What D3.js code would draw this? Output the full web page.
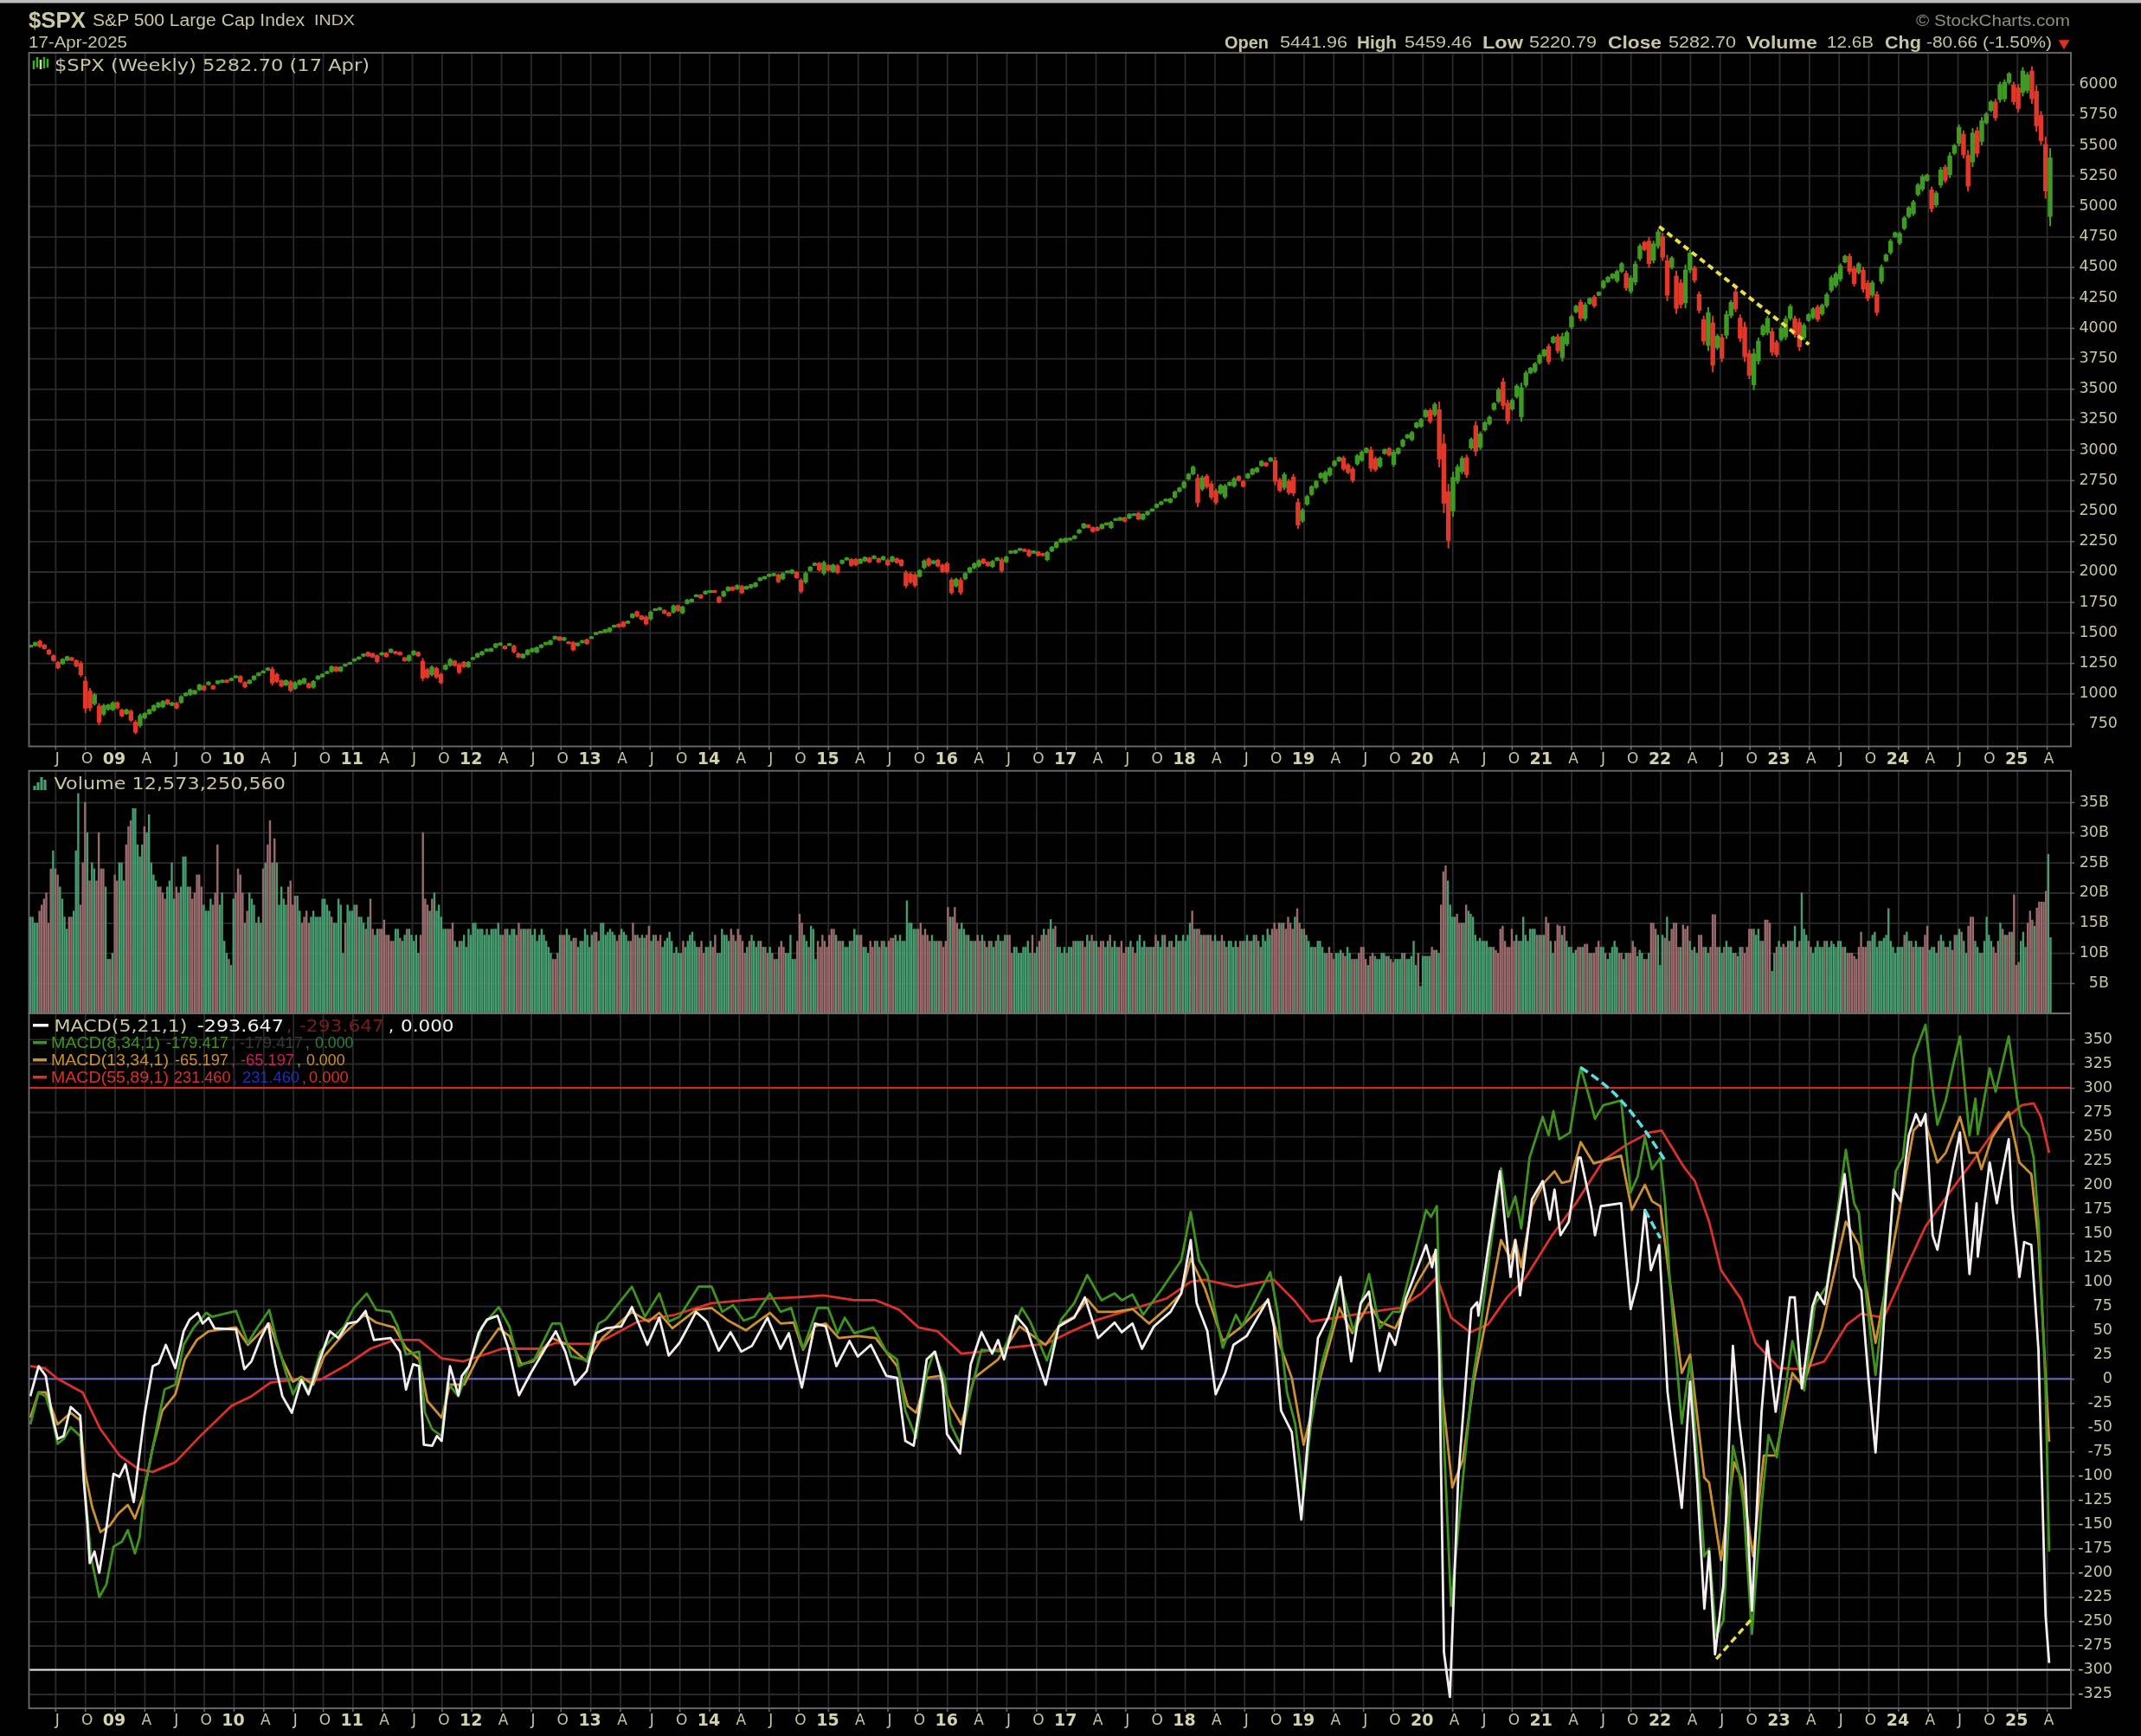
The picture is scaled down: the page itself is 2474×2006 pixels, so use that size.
<!DOCTYPE html>
<html><head><meta charset="utf-8"><title>$SPX</title>
<style>html,body{margin:0;padding:0;background:#000}svg{display:block;filter:blur(0.55px)}</style>
<script src="https://cdnjs.cloudflare.com/ajax/libs/d3/7.8.5/d3.min.js"></script></head><body>
<svg id="c" width="2474" height="2006"></svg>
<script>
// ---------- tick values ----------
const priceTicks=[750,1000,1250,1500,1750,2000,2250,2500,2750,3000,3250,3500,3750,4000,4250,4500,4750,5000,5250,5500,5750,6000];
const volumeTicks=[5,10,15,20,25,30,35];
const macdTicks=[-325,-300,-275,-250,-225,-200,-175,-150,-125,-100,-75,-50,-25,0,25,50,75,100,125,150,175,200,225,250,275,300,325,350];
const firstYear=2008,lastYear=2025;
const quarterLetters=["","A","J","O"];
// ---------- price bars, one per two weeks: low, high, direction ----------
const priceLow=[1385,1385,1375,1360,1315,1260,1200,1235,1265,1265,1215,1135,840,855,900,740,815,860,855,
870,805,825,765,665,720,790,825,850,880,880,905,895,870,915,975,980,990,1020,1020,1065,1030,1075,1085,1085,1100,
1125,1085,1045,1075,1105,1140,1165,1185,1065,1085,1050,1060,1010,1030,1065,1075,1040,1040,1110,1130,1160,1170,1175,1175,1220,1240,
1260,1275,1300,1300,1290,1250,1310,1295,1330,1320,1310,1260,1260,1310,1300,1100,1120,1140,1120,1075,1190,1220,1220,1160,1210,1210,
1275,1290,1310,1340,1340,1370,1390,1360,1390,1330,1290,1285,1310,1335,1330,1370,1395,1395,1440,1430,1430,1405,1345,1385,1410,1400,
1455,1480,1495,1495,1500,1540,1540,1540,1570,1615,1625,1600,1560,1600,1680,1680,1650,1630,1655,1670,1650,1730,1745,1790,1775,1810,
1825,1825,1740,1790,1835,1840,1850,1815,1850,1860,1870,1920,1935,1955,1960,1905,1930,1990,1980,1940,1820,1900,2000,2045,2000,1970,
2000,1990,1980,2060,2090,2040,2045,2060,2080,2070,2100,2070,2090,2045,2075,2065,2040,1865,1900,1870,1950,2020,2040,2060,2035,1990,
1985,1810,1870,1810,1930,1985,2020,2035,2060,2040,2030,2085,1990,2070,2145,2145,2170,2160,2120,2145,2125,2125,2085,2160,2190,2235,
2235,2255,2265,2310,2350,2355,2320,2330,2345,2380,2350,2420,2415,2405,2430,2460,2420,2420,2460,2490,2520,2545,2575,2560,2600,2650,
2680,2750,2790,2530,2660,2680,2590,2550,2630,2595,2700,2690,2740,2690,2760,2790,2810,2860,2860,2900,2710,2650,2670,2630,2620,2350,
2400,2540,2620,2680,2760,2720,2780,2860,2900,2825,2800,2730,2870,2900,2970,2820,2820,2850,2960,2945,2860,2960,3020,3090,3070,3175,
3180,3260,3215,3270,2855,2480,2190,2450,2720,2800,2770,3000,2950,3000,3150,3200,3320,3380,3330,3210,3320,3420,3230,3510,3620,3630,
3700,3760,3700,3870,3790,3725,3850,3990,4120,4055,4055,4190,4165,4260,4320,4370,4400,4370,4450,4305,4280,4350,4550,4630,4495,4530,
4650,4550,4220,4480,4115,4160,4160,4450,4370,4120,3860,3810,3635,3820,3720,3910,4080,4130,3885,3720,3580,3490,3700,3930,3940,3770,
3760,3890,3900,4060,3920,3810,3900,4050,4070,4050,4100,4165,4290,4330,4380,4530,4440,4340,4440,4290,4220,4250,4100,4360,4540,4600,
4740,4680,4800,4900,4920,5080,5120,5200,4950,4990,5150,5190,5230,5420,5490,5390,5120,5320,5400,5500,5670,5770,5700,5850,5855,6000,
5830,5770,5900,5925,5840,5610,5500,5060,4835];
const priceHigh=[1400,1425,1440,1405,1365,1320,1265,1290,1310,1300,1280,1265,1140,1045,1005,920,915,915,935,
935,875,875,870,780,835,845,875,910,930,945,955,930,930,985,1010,1040,1030,1080,1070,1100,1070,1110,1115,1115,1130,
1150,1150,1100,1115,1150,1175,1190,1215,1220,1170,1115,1115,1110,1100,1115,1130,1090,1110,1150,1165,1185,1230,1225,1225,1245,1260,
1290,1305,1330,1345,1335,1320,1340,1340,1370,1350,1345,1300,1320,1355,1345,1290,1210,1230,1220,1170,1240,1290,1275,1250,1265,1265,
1300,1335,1350,1370,1375,1415,1420,1395,1415,1400,1335,1330,1365,1375,1385,1405,1425,1440,1475,1470,1465,1430,1430,1420,1440,1450,
1470,1505,1515,1530,1545,1565,1575,1595,1600,1660,1680,1645,1640,1680,1700,1710,1690,1670,1730,1730,1720,1775,1780,1815,1815,1845,
1850,1850,1800,1845,1880,1880,1895,1890,1885,1900,1915,1955,1965,1985,1990,1985,1995,2010,2020,2005,1945,2000,2045,2075,2080,2090,
2060,2065,2060,2100,2120,2110,2110,2110,2125,2120,2135,2115,2130,2105,2130,2115,2105,2010,1995,1990,2020,2100,2115,2095,2105,2065,
2080,1950,1950,1950,1995,2040,2075,2100,2110,2085,2095,2120,2115,2130,2175,2180,2195,2190,2185,2175,2170,2155,2170,2210,2250,2275,
2280,2280,2300,2350,2400,2390,2370,2370,2395,2405,2415,2440,2450,2450,2480,2480,2490,2480,2500,2520,2560,2580,2600,2605,2665,2695,
2745,2810,2870,2800,2790,2800,2740,2680,2720,2720,2740,2775,2790,2750,2810,2850,2860,2915,2900,2940,2940,2770,2815,2760,2800,2600,
2520,2630,2710,2750,2815,2830,2860,2915,2945,2950,2890,2860,2965,2995,3020,3025,2945,2945,3010,3020,3000,3020,3090,3130,3155,3230,
3260,3335,3340,3390,3395,3130,2720,2820,2880,2950,2960,3100,3235,3150,3235,3280,3390,3510,3590,3410,3420,3540,3550,3650,3680,3720,
3790,3830,3870,3935,3950,3960,3980,4110,4190,4235,4210,4250,4270,4300,4395,4425,4450,4480,4540,4470,4430,4550,4690,4715,4745,4715,
4810,4780,4600,4590,4470,4400,4520,4640,4510,4300,4100,4170,4100,3950,3950,4140,4230,4320,4110,4050,3820,3830,3920,4030,4100,4000,
3900,4015,4100,4195,4100,4080,4040,4120,4170,4190,4200,4290,4430,4460,4530,4600,4610,4510,4540,4500,4390,4390,4300,4520,4610,4730,
4790,4790,4920,5000,5050,5190,5260,5265,5160,5125,5320,5340,5440,5510,5670,5620,5460,5640,5650,5730,5770,5870,5880,6020,6040,6100,
6020,6000,6140,6100,6147,5990,5780,5570,5475];
const priceDir="ggrrrrrggrrrrrgrggg"+"rrgrrggggggrgrgggggrgrggrg"+"grrgggggrrrgrgggrgggggrggg"+"gggrrrgrgrrrggrrrgrrggrrrg"+"gggggggrgrrggggggggrgrrggr"+"ggggggrrggrrrgggrrgrggggrg"+"grrggrgrgggggggrgggrrgggrg"+"rgrggrrggrgrgrgrrrrrggrgrr"+"rrgrggggrrggrggggrrgrrgggg"+"gggggrrrgggggrggrggggggggg"+"gggrgrrrggggrrggggrgrrgrrr"+"gggggggggrrrgggrrggrgggggg"+"ggrgrrrgggrgrgggggrrgggggg"+"ggrgrggggrggrggggggrgggrrg"+"grrgrrggrrrgrgrggrrrrggggr"+"rgggrrgggrggggggrrgrrgrggg"+"ggggggggrggrgggrrgrgggrggg"+"rrggrrrrg";
// ---------- weekly volume in billions; negative = down week ----------
const volume=[16,16,15,15,-17,-18,-19,-20,-15,-24,27,-24,-23,21,19,16,14,-16,-16,17,27,36.5,-18,-25,-35,30,-22,25,24,-22,-30,-24,-24,21,9,-9,10,
-23,-22,25,25,22,-28,-31,-32,34,34,28,26,28,-31,30,33,25,23,22,-21,-21,-20,-19,21,22,25,19,-21,-20,21,26,26,21,-21,-19,-20,-23,-23,-21,18,17,17,19,-18,-20,-28,18,20,12,10,-9,8,
19,-20,-24,-23,-20,15,-17,20,19,18,-15,16,15,-24,25,-28,-32,25,-29,25,18,21,19,18,-21,-22,-18,-19.5,19.5,17,-15,-16,-17,-15,16,17,16,16,16,19,19,18,17,-16,15,15,19,18,10,-15,18,17,
17,18,-18,16,16,15,-14,16,-19,-14,13,14,-14,-14,-15.5,-13,-13,-12,-12,14,14,-12.5,12,13,-14,14,13,12,13,10,-13,-30,-19,-18,17,-19,20,17,18,16,14,14,-14,-14,-15,12,11,-12,12,13,11,14,
13,15,15,14,14,14,13,14,13,14,14,14,15,13,-13,-14,14,13,14,14,-13,-15,-14,14,14,-14,14,13,14,12,13,14,13,12,11,10,-9,-9,-10,13,-13,-13,14,13,12,-12.5,-12.5,11,12,12,14,13,
11,13,-13.5,-13.5,12,15,15,13,13.5,14,13.5,13,-12,-13,14,13.5,13,12,-12,-15,-13,13,-12.5,13,12.5,-13,-14.5,12,13,-13,-12,-13,11,12,12.5,13.5,12,-10,11,10,10,-12,11,12,13,13.5,12,11,-11,-12,-10,11,
-11,12,-11,-13,10,10,14,13,13,12,-14,-13,12,-14,-13,-12,-10,11,-12,13,12,11,12,-12,11,-11,-10,11,-10,-9,9,-11,-12,-11,10,10,13,9,9,-12,-16.5,-15,13,12,-11,14.5,14,9,-12,-11,-13,-12,-11,
-13,-14,-14,13,-12,-12,12,11,11,12,-12,14,13,-13,-13,11,11,10,-12,-11,-12,12,-11,-12,12,11,-12,-12.5,-12.5,13,12,13,12,12,18.7,15,15,14,14,-14,-15,-13,-14,-13,-12,13,12,-12,12,-12,-11,-12,
-17.6,16,-16,-17.6,-15,14,15,14,-13,13,12,-12,12,-13,-12,13,-12,11,-12,12,11,-12,13,12,-12,13,-13,-13,-10,11,11,10,10,11,11,12,10,-13,10,11,-12,-13,14,-13,-14,15.6,14,-14.5,11,11,10,11,
-10,11,11,-12,12,12,12,-12,-11,13,12,-13,12,12,-11,-12,-12,11,12,-13,11,12,11,-11,-12,-10,-11,11,12,-11,-10,12,13,11,12,-11,11,-11,11,-13,12,11,13,-13,-11,12,-12,-11,13,12,-12,13,
12,13,15,-17,14,-14,-14,13,-13,-13,13,-13,-12,13,12,-12,-13,12,-11,12,12,11,12,-11,-12,12,-12,13,-12,12,13,-13,12,-11,13,12,14,13,-14,-15,-14,-15,15,-15,-14,-16,-15,-14,16,-17.4,-15,14,
-14,13,12,11,11,-11,12,12,11,10,-10,-11,-10,-9,10,10,10.5,-10,-9.5,11,10,-9,-9,9,-10,-11,-11,-9,8,-9.5,-10,9.5,9,9,10,10,-9.5,9.5,-9,-8.5,9,9,9,10,-10,9,9,9.5,12,8,-10,4.5,
9.5,9.5,9.5,9.5,-11,-10.5,10.5,10,-18,-23.5,-24.5,22,18,16,16,-16.5,-15,-15,15,-18,17,16.5,16,13,12,12.5,12,12,12,11,11,-11,-10.5,-10,-14,-14.5,-12,-11,-11,-14,-12,13,-12,12,16,13,12,14,14,14,-13,13,
-13,13,-16,-15,12,10,-12,-14.7,-14.5,13,-14.5,12,11,11,10,10.5,-11,-11,11,-11.5,-11.5,10,-10,-10,-11,-12,11,11,-10,9,10,11,12,11,-10,-10,9,10,-10,-10,-12,-11,9.5,10.5,10,-9,-9,10,-15,-15,-14,13,
8,13,-12.5,16,-12,-14,-15,-15,-11,11,-14.7,-14,-14.5,12,-10.5,11,10,-13,-13,-11,11,10,-11,-16.4,-16.4,-11,11,10,-11,12,11,11,10,-10,9.5,11,-11,-10,-11,-14,-14,14,13,14,-12,12,-15.5,-15.5,-15,7,10,-11,
12,11,-11.5,-11,12,-12,12,14.5,-11,-12,20,14,13,-12,11,10,11,12,11,11,-12,12,11,12,11.5,11,12,12,-11,11,-10,-10,-10,-9.5,-9,-11,-13.5,-11,-11,12,-12,13,13.5,11,12,12,12.5,13,17.4,12,11,10,
11,11,11,-13,13.5,12,-12,-11,12,11,11,-11,-13,-14.5,10.5,11,11,10,-12,13,12,-11,-11,12,-10.5,-13,13,14,-13.5,12,10,-14.5,-16,-16,12,11,10,-10,12,16,13,12,-11,-10,-12,15,-14,13,-13,-13.5,13.5,-19.7,
-8,-8.5,12,13.5,11,-15,-17,-15.5,14.5,-17.5,-18.5,-18.5,-18.5,-20.3,26.4,12.6];
// ---------- MACD lines: [decimal year, value] ----------
const macdWhite=[[2008.29,-18],[2008.36,13],[2008.42,3],[2008.47,-35],[2008.52,-62],[2008.57,-59],[2008.63,-29],[2008.71,-38],[2008.74,-105],[2008.77,-149],[2008.79,-190],[2008.83,-178],[2008.87,-200],[2008.93,-154],[2008.99,-98],[2009.04,-101],[2009.09,-88],[2009.16,-127],[2009.20,-86],[2009.25,-38],[2009.32,13],[2009.37,16],[2009.43,35],[2009.51,11],[2009.58,49],[2009.63,61],[2009.70,68],[2009.74,57],[2009.79,63],[2009.84,52],[2010.02,51],[2010.09,10],[2010.15,18],[2010.22,40],[2010.29,57],[2010.35,15],[2010.41,-18],[2010.49,-35],[2010.57,-1],[2010.63,-16],[2010.72,18],[2010.81,49],[2010.88,42],[2010.96,57],[2011.04,59],[2011.11,70],[2011.18,40],[2011.32,42],[2011.40,28],[2011.45,-11],[2011.51,15],[2011.56,13],[2011.60,-68],[2011.67,-69],[2011.71,-59],[2011.75,-64],[2011.82,13],[2011.89,-17],[2011.92,3],[2011.98,13],[2012.06,47],[2012.13,61],[2012.22,65],[2012.31,32],[2012.40,-17],[2012.50,6],[2012.62,31],[2012.71,49],[2012.79,28],[2012.87,-6],[2012.97,8],[2013.05,47],[2013.13,52],[2013.26,54],[2013.35,74],[2013.48,35],[2013.58,63],[2013.66,24],[2013.75,37],[2013.89,69],[2013.98,59],[2014.08,29],[2014.18,48],[2014.27,28],[2014.36,34],[2014.49,63],[2014.60,31],[2014.67,47],[2014.78,-9],[2014.89,57],[2014.98,54],[2015.07,13],[2015.18,39],[2015.25,23],[2015.36,35],[2015.49,3],[2015.58,1],[2015.65,-64],[2015.72,-69],[2015.83,20],[2015.90,28],[2015.96,-1],[2016.00,-57],[2016.11,-77],[2016.20,15],[2016.29,48],[2016.38,26],[2016.43,40],[2016.48,20],[2016.58,65],[2016.67,52],[2016.83,-6],[2016.94,54],[2017.07,63],[2017.16,84],[2017.27,42],[2017.41,58],[2017.47,48],[2017.56,57],[2017.64,31],[2017.74,54],[2017.88,69],[2017.97,88],[2018.05,143],[2018.10,78],[2018.19,49],[2018.26,-16],[2018.34,6],[2018.41,35],[2018.52,44],[2018.70,82],[2018.75,54],[2018.81,-33],[2018.90,-55],[2018.98,-145],[2019.03,-71],[2019.12,42],[2019.21,64],[2019.31,105],[2019.40,18],[2019.48,78],[2019.55,90],[2019.64,8],[2019.72,47],[2019.77,35],[2019.86,83],[2020.03,138],[2020.08,115],[2020.11,133],[2020.14,25],[2020.18,-282],[2020.23,-328],[2020.30,-102],[2020.41,72],[2020.46,79],[2020.47,65],[2020.55,133],[2020.65,214],[2020.74,105],[2020.78,143],[2020.82,86],[2020.92,185],[2021.01,204],[2021.07,164],[2021.11,195],[2021.16,148],[2021.23,162],[2021.31,228],[2021.33,228],[2021.42,176],[2021.45,148],[2021.50,178],[2021.67,181],[2021.75,72],[2021.81,100],[2021.87,174],[2021.92,112],[2021.99,138],[2022.06,-13],[2022.12,-74],[2022.18,-133],[2022.25,-3],[2022.31,-107],[2022.37,-237],[2022.41,-178],[2022.46,-284],[2022.53,-213],[2022.61,34],[2022.66,-41],[2022.71,-93],[2022.77,-239],[2022.85,-36],[2022.90,39],[2022.97,-34],[2023.03,20],[2023.09,84],[2023.13,84],[2023.19,-10],[2023.28,75],[2023.32,89],[2023.38,77],[2023.55,211],[2023.63,105],[2023.69,91],[2023.75,1],[2023.81,-76],[2023.88,58],[2023.96,195],[2024.02,183],[2024.09,251],[2024.15,273],[2024.19,261],[2024.23,273],[2024.29,148],[2024.33,133],[2024.40,181],[2024.46,218],[2024.52,254],[2024.60,108],[2024.66,181],[2024.67,126],[2024.77,223],[2024.83,181],[2024.87,209],[2024.93,247],[2024.96,178],[2025.02,105],[2025.06,141],[2025.12,138],[2025.18,30],[2025.24,-244],[2025.27,-293]];
const macdGreen=[[2008.29,-47],[2008.36,-14],[2008.42,-18],[2008.47,-38],[2008.52,-67],[2008.57,-62],[2008.63,-50],[2008.71,-59],[2008.75,-115],[2008.80,-183],[2008.87,-225],[2008.93,-212],[2008.99,-173],[2009.06,-168],[2009.11,-156],[2009.17,-180],[2009.21,-163],[2009.25,-115],[2009.32,-71],[2009.42,-11],[2009.51,-6],[2009.58,35],[2009.66,52],[2009.77,68],[2009.82,64],[2010.02,70],[2010.12,37],[2010.18,49],[2010.30,71],[2010.36,40],[2010.44,6],[2010.50,-16],[2010.57,1],[2010.63,-14],[2010.73,28],[2010.83,42],[2010.93,54],[2011.01,73],[2011.12,88],[2011.20,71],[2011.32,69],[2011.38,54],[2011.45,25],[2011.56,28],[2011.61,-35],[2011.67,-52],[2011.75,-59],[2011.80,-4],[2011.89,-18],[2011.98,13],[2012.09,54],[2012.23,74],[2012.32,54],[2012.40,13],[2012.53,20],[2012.68,57],[2012.75,57],[2012.84,23],[2012.97,19],[2013.07,57],[2013.13,61],[2013.35,95],[2013.46,64],[2013.58,88],[2013.66,59],[2013.75,64],[2013.91,95],[2014.02,95],[2014.11,69],[2014.20,76],[2014.29,60],[2014.38,64],[2014.51,88],[2014.60,69],[2014.69,73],[2014.79,31],[2014.91,73],[2015.00,73],[2015.08,47],[2015.14,63],[2015.22,47],[2015.38,53],[2015.49,28],[2015.58,20],[2015.65,-33],[2015.74,-61],[2015.83,6],[2015.89,28],[2015.98,1],[2016.03,-47],[2016.11,-67],[2016.20,-14],[2016.29,30],[2016.47,28],[2016.63,73],[2016.70,59],[2016.84,19],[2016.96,61],[2017.07,78],[2017.18,107],[2017.30,81],[2017.41,88],[2017.47,81],[2017.56,87],[2017.65,66],[2017.81,93],[2017.97,122],[2018.05,172],[2018.12,122],[2018.19,107],[2018.32,32],[2018.43,66],[2018.48,54],[2018.72,110],[2018.78,69],[2018.86,-14],[2018.93,-47],[2019.00,-120],[2019.06,-47],[2019.15,15],[2019.24,54],[2019.30,102],[2019.42,49],[2019.55,108],[2019.64,52],[2019.75,69],[2019.81,69],[2019.95,136],[2020.03,174],[2020.07,167],[2020.12,178],[2020.16,-8],[2020.24,-234],[2020.34,-102],[2020.42,-3],[2020.47,37],[2020.55,115],[2020.66,217],[2020.72,167],[2020.78,188],[2020.83,155],[2020.90,228],[2021.01,270],[2021.06,251],[2021.10,276],[2021.15,247],[2021.24,254],[2021.31,308],[2021.33,321],[2021.41,287],[2021.45,268],[2021.52,282],[2021.67,287],[2021.75,192],[2021.81,209],[2021.87,249],[2021.93,216],[2022.00,228],[2022.04,181],[2022.08,100],[2022.18,-46],[2022.25,20],[2022.31,-79],[2022.37,-183],[2022.41,-175],[2022.47,-265],[2022.53,-249],[2022.61,-69],[2022.66,-95],[2022.70,-131],[2022.77,-263],[2022.85,-131],[2022.91,-58],[2022.98,-81],[2023.07,6],[2023.11,39],[2023.21,-12],[2023.30,77],[2023.40,96],[2023.50,181],[2023.56,236],[2023.63,181],[2023.67,171],[2023.73,86],[2023.81,4],[2023.88,82],[2023.98,214],[2024.04,228],[2024.13,332],[2024.23,365],[2024.29,299],[2024.33,262],[2024.40,287],[2024.46,322],[2024.52,353],[2024.60,251],[2024.65,289],[2024.67,252],[2024.77,320],[2024.82,296],[2024.93,353],[2025.00,289],[2025.04,261],[2025.10,251],[2025.14,228],[2025.18,162],[2025.24,-8],[2025.27,-178]];
const macdOrange=[[2008.29,-40],[2008.36,-14],[2008.42,-14],[2008.52,-47],[2008.63,-35],[2008.71,-43],[2008.75,-96],[2008.81,-132],[2008.88,-158],[2008.96,-151],[2009.03,-139],[2009.11,-130],[2009.17,-144],[2009.24,-120],[2009.32,-71],[2009.40,-33],[2009.51,-16],[2009.59,20],[2009.69,40],[2009.79,49],[2010.02,53],[2010.12,35],[2010.30,57],[2010.41,20],[2010.50,-3],[2010.57,2],[2010.67,-6],[2010.76,23],[2010.93,47],[2011.10,66],[2011.20,58],[2011.35,53],[2011.45,32],[2011.56,20],[2011.63,-23],[2011.75,-40],[2011.82,-6],[2011.94,-6],[2012.06,23],[2012.23,52],[2012.32,44],[2012.42,15],[2012.52,18],[2012.68,42],[2012.81,35],[2012.97,18],[2013.10,42],[2013.35,69],[2013.49,59],[2013.58,68],[2013.69,52],[2013.89,71],[2014.02,73],[2014.16,60],[2014.31,50],[2014.51,68],[2014.60,57],[2014.71,58],[2014.79,30],[2014.89,54],[2014.98,57],[2015.09,42],[2015.25,44],[2015.40,42],[2015.58,13],[2015.67,-28],[2015.74,-35],[2015.83,1],[2015.94,3],[2016.03,-28],[2016.12,-47],[2016.23,1],[2016.43,20],[2016.61,54],[2016.83,35],[2016.96,57],[2017.07,64],[2017.18,82],[2017.27,69],[2017.41,69],[2017.56,72],[2017.70,57],[2017.85,73],[2017.97,88],[2018.05,124],[2018.17,93],[2018.32,39],[2018.46,52],[2018.70,81],[2018.80,35],[2018.90,1],[2019.00,-68],[2019.06,-38],[2019.15,6],[2019.30,73],[2019.41,47],[2019.55,78],[2019.64,59],[2019.77,52],[2019.95,98],[2020.12,133],[2020.16,-8],[2020.25,-112],[2020.34,-83],[2020.43,-3],[2020.53,58],[2020.66,143],[2020.74,124],[2020.78,143],[2020.83,115],[2020.92,178],[2021.02,202],[2021.11,214],[2021.17,202],[2021.24,204],[2021.33,244],[2021.44,222],[2021.67,230],[2021.76,174],[2021.87,200],[2021.93,183],[2022.00,178],[2022.08,100],[2022.18,6],[2022.25,25],[2022.37,-102],[2022.41,-107],[2022.51,-187],[2022.62,-86],[2022.68,-102],[2022.78,-183],[2022.87,-79],[2022.97,-79],[2023.11,6],[2023.20,-8],[2023.36,53],[2023.56,162],[2023.67,138],[2023.81,37],[2023.96,138],[2024.13,256],[2024.22,268],[2024.33,223],[2024.40,233],[2024.52,270],[2024.60,233],[2024.66,233],[2024.70,216],[2024.79,249],[2024.93,275],[2025.02,223],[2025.12,211],[2025.18,143],[2025.27,-65]];
const macdRed=[[2008.29,13],[2008.41,11],[2008.52,0],[2008.73,-14],[2008.88,-52],[2009.04,-79],[2009.20,-93],[2009.32,-96],[2009.51,-86],[2009.72,-59],[2009.98,-28],[2010.15,-18],[2010.31,-4],[2010.50,-1],[2010.73,-1],[2010.96,15],[2011.15,31],[2011.35,40],[2011.56,40],[2011.75,21],[2011.93,18],[2012.06,23],[2012.26,31],[2012.42,31],[2012.58,31],[2012.71,37],[2012.84,36],[2013.01,36],[2013.13,41],[2013.40,59],[2013.71,66],[2014.02,78],[2014.38,82],[2014.73,84],[2014.96,86],[2015.22,81],[2015.40,81],[2015.60,71],[2015.76,53],[2015.92,49],[2016.12,26],[2016.29,28],[2016.52,32],[2016.83,36],[2017.05,49],[2017.27,61],[2017.59,73],[2017.85,83],[2018.05,100],[2018.17,102],[2018.43,95],[2018.75,102],[2018.92,81],[2019.06,59],[2019.37,65],[2019.68,71],[2019.81,73],[2019.99,88],[2020.12,105],[2020.24,63],[2020.40,48],[2020.55,56],[2020.71,84],[2020.86,103],[2021.09,148],[2021.29,181],[2021.52,225],[2021.71,241],[2021.91,254],[2022.01,256],[2022.20,218],[2022.29,204],[2022.41,162],[2022.51,112],[2022.68,82],[2022.80,37],[2023.00,11],[2023.18,10],[2023.38,18],[2023.57,56],[2023.69,67],[2023.88,63],[2024.07,115],[2024.23,157],[2024.42,190],[2024.62,223],[2024.85,263],[2025.04,282],[2025.14,284],[2025.20,270],[2025.27,233]];
// ---------- hand-drawn trend lines ----------
const priceTrend=[[2021.99,4832],[2023.25,3864]];
const macdTrendCyanA=[[2021.33,321],[2021.67,287],[2021.87,256],[2022.04,225]];
const macdTrendCyanB=[[2021.87,174],[2022.00,145]];
const macdTrendYellow=[[2022.47,-289],[2022.78,-246]];

// ---------- layout ----------
const L=33.5,R=2393,PT=61,PB=862.5,VT=890.7,VB=1171,MB=1974;
const svg=d3.select("#c");
const tan="#c6c6a2",gridC="#2a2a2a",frameC="#6e6e6e";
const x=d3.scaleLinear().domain([2008.279,2025.453]).range([L,R]);
const yP=d3.scaleLinear().domain([750,6000]).range([836.5,97.3]);
const yV=d3.scaleLinear().domain([0,35]).range([1170.8,927]);
const yM=d3.scaleLinear().domain([-300,300]).range([1929.5,1257]);
const xBarP=d3.scaleLinear().domain([0,priceLow.length-1]).range([35.5,2369]);
const xBarV=d3.scaleLinear().domain([0,volume.length-1]).range([35,2369.5]);
const qTicks=[];
for(let yr=firstYear;yr<=lastYear;yr++)for(let q=0;q<4;q++){const t=yr+q*0.25;if(t>=2008.45&&t<=2025.3)qTicks.push(t);}
const qFmt=t=>{const yr=Math.floor(t),q=Math.round((t-yr)*4);return q===0?String(yr).slice(2):quarterLetters[q];};
svg.append("rect").attr("width",2474).attr("height",2006).attr("fill","#000");
svg.append("rect").attr("width",2474).attr("height",3.5).attr("fill","#bdbdbd");

function panel(top,bottom,yScale,ticks,fmt,labelEnd,xLabels){
  const g=svg.append("g");
  const gy=g.append("g").attr("transform",`translate(${L},0)`).call(d3.axisLeft(yScale).tickValues(ticks).tickSize(-(R-L)).tickFormat(""));
  gy.selectAll("line").attr("stroke",gridC).attr("stroke-width",1.8);gy.select(".domain").remove();
  const gx=g.append("g").attr("transform",`translate(0,${bottom})`).call(d3.axisTop(x).tickValues(qTicks).tickSize(bottom-top).tickFormat(""));
  gx.selectAll("line").attr("stroke",gridC).attr("stroke-width",1.8);gx.select(".domain").remove();
  const ya=g.append("g").attr("transform",`translate(${R},0)`).call(d3.axisRight(yScale).tickValues(ticks).tickSize(4).tickFormat(fmt));
  ya.select(".domain").remove();
  ya.selectAll("line").attr("stroke",frameC).attr("stroke-width",1.5);
  ya.selectAll("text").attr("x",labelEnd-R).attr("dy","0.25em").attr("text-anchor","end").attr("font-family","'DejaVu Sans'").attr("font-size",17.5).attr("fill",tan);
  if(xLabels){
    const xa=g.append("g").attr("transform",`translate(0,${bottom})`).call(d3.axisBottom(x).tickValues(qTicks).tickSize(4).tickPadding(3).tickFormat(qFmt));
    xa.select(".domain").remove();
    xa.selectAll("line").attr("stroke",frameC).attr("stroke-width",1.5);
    xa.selectAll("text").attr("font-family","'DejaVu Sans'").attr("font-size",d=>Number.isInteger(d)?19:17).attr("font-weight",d=>Number.isInteger(d)?"bold":"normal").attr("fill",d=>Number.isInteger(d)?"#d2d2ac":tan).attr("dx",d=>Number.isInteger(d)?-1:2);
  }
  return g;
}
panel(PT,PB,yP,priceTicks,d=>d,2447,true);
panel(VT,VB,yV,volumeTicks,d=>d+"B",2437,false);
panel(VB,MB,yM,macdTicks,d=>d,2441,true);

// price bars: a thin full-range stem and a wider body over the middle of the range
const dirColor=i=>priceDir[i]==="r"?"#e0392a":"#3f9a24";
svg.append("g").selectAll("rect").data(priceLow).join("rect")
 .attr("x",(d,i)=>xBarP(i)-1).attr("width",2)
 .attr("y",(d,i)=>yP(priceHigh[i])).attr("height",(d,i)=>Math.max(2,yP(d)-yP(priceHigh[i])))
 .attr("fill",(d,i)=>dirColor(i));
svg.append("g").selectAll("rect").data(priceLow).join("rect")
 .attr("x",(d,i)=>xBarP(i)-2.7).attr("width",5.4)
 .attr("y",(d,i)=>yP(priceHigh[i]-(priceHigh[i]-d)*0.12)).attr("height",(d,i)=>Math.max(3,(yP(d)-yP(priceHigh[i]))*0.76))
 .attr("fill",(d,i)=>dirColor(i));
// volume bars
svg.append("g").selectAll("rect").data(volume).join("rect")
 .attr("x",(d,i)=>xBarV(i)-1.2).attr("width",2.4)
 .attr("y",d=>yV(Math.abs(d))).attr("height",d=>yV(0)-yV(Math.abs(d)))
 .attr("fill",d=>d<0?"#9a6b6d":"#479c70");
// reference lines
[[300,"#d6281f"],[0,"#6464c8"],[-300,"#e8e8e8"]].forEach(([v,c])=>svg.append("line").attr("x1",L).attr("x2",R).attr("y1",yM(v)).attr("y2",yM(v)).attr("stroke",c).attr("stroke-width",2));
// MACD lines
const lineM=d3.line().x(d=>x(d[0])).y(d=>yM(d[1]));
[[macdRed,"#d9322b"],[macdOrange,"#cb9034"],[macdGreen,"#3f9420"],[macdWhite,"#f4efee"]].forEach(([s,c])=>
  svg.append("path").datum(s).attr("d",lineM).attr("fill","none").attr("stroke",c).attr("stroke-width",2.8).attr("stroke-linejoin","round"));
// trend lines
const lineP=d3.line().x(d=>x(d[0])).y(d=>yP(d[1]));
svg.append("path").datum(priceTrend).attr("d",lineP).attr("fill","none").attr("stroke","#e8de4a").attr("stroke-width",4).attr("stroke-dasharray","7 5");
const lineT=d3.line().x(d=>x(d[0])).y(d=>yM(d[1])).curve(d3.curveMonotoneX);
[macdTrendCyanA,macdTrendCyanB].forEach(s=>svg.append("path").datum(s).attr("d",lineT).attr("fill","none").attr("stroke","#5cdde0").attr("stroke-width",3.5).attr("stroke-dasharray","10 5"));
svg.append("path").datum(macdTrendYellow).attr("d",lineT).attr("fill","none").attr("stroke","#e8de4a").attr("stroke-width",3.5).attr("stroke-dasharray","8 5");
// frames
[[PT,PB],[VT,VB],[VB,MB]].forEach(([a,b])=>svg.append("rect").attr("x",L).attr("y",a).attr("width",R-L).attr("height",b-a).attr("fill","none").attr("stroke",frameC).attr("stroke-width",1.8));

// text
function T(str,x0,x1,yc,size,fill,opt={}){
  const t=svg.append("text").attr("x",x0).attr("y",yc).attr("dy","0.36em").text(str).attr("font-size",size).attr("fill",fill)
   .attr("font-family",opt.family||"'Liberation Sans'").attr("font-weight",opt.weight||"normal");
  if(x1)t.attr("textLength",x1-x0).attr("lengthAdjust","spacingAndGlyphs");
  return t;
}
T("$SPX",33,99,23,26,"#c9c9a4",{weight:"bold"});
T("S&P 500 Large Cap Index",107,352,23,20,tan);
T("INDX",363,410,23,17,tan);
T("17-Apr-2025",33,147,49,18,tan);
T("$SPX (Weekly) 5282.70 (17 Apr)",63,427,75,19,tan,{family:"'DejaVu Sans'"});
T("\u00A9 StockCharts.com",2214,2392,23,19,"#8f8f78");
[["Open",1415,1466,1],["5441.96",1479,1557,0],["High",1568,1614,1],["5459.46",1623,1701,0],["Low",1713,1760,1],["5220.79",1767,1845,0],["Close",1858,1920,1],["5282.70",1928,2006,0],["Volume",2018,2100,1],["12.6B",2111,2165,0],["Chg",2178,2220,1],["-80.66 (-1.50%)",2226,2371,0]]
 .forEach(([s,a,b,w])=>T(s,a,b,48.5,w?21:18,tan,{weight:w?"bold":"normal"}));
svg.append("path").attr("d",d3.symbol(d3.symbolTriangle,70)()).attr("transform","translate(2385,50) rotate(180)").attr("fill","#e0301e");
T("Volume 12,573,250,560",62.5,330,905,19,tan,{family:"'DejaVu Sans'"});
// icons
[[39,70,80,"#3fae2a"],[43,66,78,"#3fae2a"],[47,69,80,"#c9e0b0"],[51,66,79,"#3fae2a"],[55,68,78,"#3fae2a"]].forEach(([px,a,b,c])=>svg.append("line").attr("x1",px).attr("x2",px).attr("y1",a).attr("y2",b).attr("stroke",c).attr("stroke-width",2.5));
[[40,908],[44,904],[48,898],[52,901]].forEach(([px,a])=>svg.append("rect").attr("x",px-1.6).attr("width",3.2).attr("y",a).attr("height",913-a).attr("fill","#479c70"));
// MACD legend
const legendRows=[
 {y:1185,c:"#ffffff",lx:[38,56],f:"'DejaVu Sans'",s:19,parts:[["MACD(5,21,1)",62.5,216.5,tan],["-293.647",227.7,328,"#f2f2f2"],[",",331,336,"#7a1d1a"],["-293.647",346,444,"#7a1d1a"],[",",449,454,"#eee"],["0.000",463,524.5,"#f2f2f2"]]},
 {y:1205,c:"#3f9420",lx:[38,54],f:"'Liberation Sans'",s:17.5,parts:[["MACD(8,34,1)",59,185,"#3f9420"],["-179.417",192,264,"#3f9420"],[",",267,271,"#444"],["-179.417",277,350,"#3a3a3a"],[",",353,357,"#3f9420"],["0.000",364,408.5,"#2f7f3a"]]},
 {y:1225,c:"#cb9034",lx:[38,54],f:"'Liberation Sans'",s:17.5,parts:[["MACD(13,34,1)",59,195,"#cb9034"],["-65.197",202,264,"#cb9034"],[",",267,271,"#c4205c"],["-65.197",278,340,"#c4205c"],[",",343,347,"#cb9034"],["0.000",354,398.6,"#cb9034"]]},
 {y:1245,c:"#d9322b",lx:[38,54],f:"'Liberation Sans'",s:17.5,parts:[["MACD(55,89,1)",59,195,"#d9322b"],["231.460",201,266.5,"#d9322b"],[",",269,273,"#1a30c0"],["231.460",280,346,"#1a30c0"],[",",349,353,"#d9322b"],["0.000",357,402.7,"#d9322b"]]}];
legendRows.forEach(r=>{
  svg.append("rect").attr("x",r.lx[0]).attr("width",r.lx[1]-r.lx[0]).attr("y",r.y-2).attr("height",3.5).attr("fill",r.c);
  r.parts.forEach(([s,a,b,c])=>T(s,a,s===","?null:b,r.y,r.s,c,{family:r.f}));
});
</script></body></html>
